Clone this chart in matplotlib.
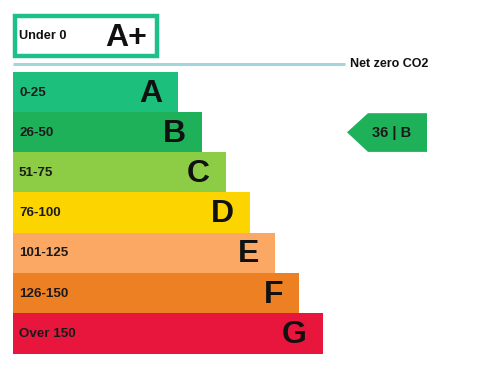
import matplotlib
matplotlib.use("Agg")
import matplotlib.pyplot as plt
from matplotlib.patches import Rectangle, Polygon

plt.rcParams['font.family'] = ['Liberation Sans', 'DejaVu Sans']

bands = ["A", "B", "C", "D", "E", "F", "G"]
ranges = ["0-25", "26-50", "51-75", "76-100", "101-125", "126-150", "Over 150"]
lengths = [165, 189, 213, 237, 262, 286, 310]
colors = ["#1dbf7d", "#1fb15a", "#8dcd46", "#fcd500", "#fba865", "#ee8024", "#e8153c"]
top_band = "A+"
top_range = "Under 0"
current_value = 36
current_band = "B"
net_zero_label = "Net zero CO2"

W, H = 486, 385
fig = plt.figure(figsize=(W / 100, H / 100), dpi=100)
ax = fig.add_axes([0, 0, 1, 1])
ax.set_xlim(0, W)
ax.set_ylim(H, 0)
ax.axis('off')

x0 = 13
row_h = 40.2
y_first = 72
ys = [y_first + row_h * i + row_h / 2 for i in range(len(bands))]

ax.barh(ys, lengths, height=row_h + 0.3, left=x0, color=colors, linewidth=0)
for y, L, b, r in zip(ys, lengths, bands, ranges):
    ax.text(x0 + 6, y + 0.5, r, fontsize=9.6, fontweight='bold', va='center', ha='left', color='#1a1a1a')
    ax.text(x0 + L - 16, y + 1.5, b, fontsize=23, fontweight='bold', va='center', ha='right', color='#111111')

# A+ box
ax.add_patch(Rectangle((15, 16), 142, 40, fill=False, edgecolor='#1dbf8a', linewidth=3.2))
ax.text(19, 36, top_range, fontsize=9.2, fontweight='bold', va='center', ha='left', color='#111111')
ax.text(126.5, 37.5, top_band, fontsize=23, fontweight='bold', va='center', ha='center', color='#111111')

# net zero line
ax.plot([13, 345], [64, 64], color='#a6d4db', linewidth=2.2, solid_capstyle='butt')
ax.text(350, 64, net_zero_label, fontsize=9, fontweight='bold', va='center', ha='left', color='#111111')

# current rating arrow
bi = bands.index(current_band)
yc = ys[bi]
top, bot = yc - row_h / 2 + 1, yc + row_h / 2 - 0.5
ax.add_patch(Polygon([(347, yc), (368, top), (427, top), (427, bot), (368, bot)],
                     closed=True, facecolor=colors[bi], edgecolor='none'))
ax.text(392, yc + 0.5, f"{current_value} | {current_band}", fontsize=10.5, fontweight='bold',
        va='center', ha='center', color='#1a1a1a')

fig.savefig("out.png", dpi=100)
